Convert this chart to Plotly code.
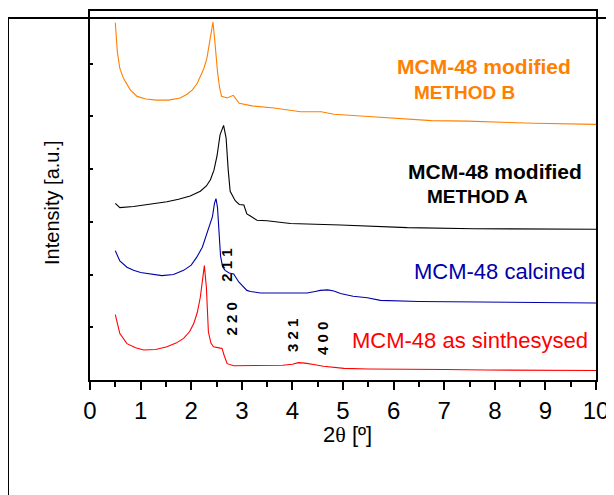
import plotly.graph_objects as go

# ---- data ----
red_x = [0.5, 0.59, 0.73, 0.9, 1.06, 1.3, 1.52, 1.7, 1.85, 1.97, 2.05, 2.12, 2.18, 2.22, 2.26, 2.30, 2.34,
         2.39, 2.44, 2.55, 2.61, 2.65, 2.71, 2.84, 3.2, 3.48, 3.81, 4.0, 4.12, 4.25, 4.35, 4.45, 4.61,
         5.02, 5.5, 6.49, 7.0, 7.83, 9.0, 10]
red_y = [1.24, 0.88, 0.69, 0.61, 0.57, 0.58, 0.63, 0.70, 0.79, 0.92, 1.07, 1.28, 1.57, 1.85, 2.17, 1.76, 0.91,
         0.70, 0.63, 0.61, 0.60, 0.47, 0.31, 0.27, 0.27, 0.27, 0.28, 0.30, 0.33, 0.32, 0.31, 0.29, 0.26,
         0.22, 0.21, 0.21, 0.20, 0.19, 0.18, 0.18]

blue_x = [0.5, 0.59, 0.73, 0.86, 1.0, 1.19, 1.42, 1.65, 1.85, 2.0, 2.11, 2.22, 2.31, 2.36, 2.42, 2.46,
          2.49, 2.52, 2.55, 2.58, 2.62, 2.67, 2.75, 2.84, 2.94, 3.02, 3.1, 3.17, 3.37, 3.63, 4.0, 4.29,
          4.45, 4.55, 4.7, 4.82, 4.95, 5.2, 5.48, 5.74, 6.5, 7.72, 9.0, 10]
blue_y = [2.45, 2.26, 2.14, 2.08, 2.04, 2.01, 1.98, 2.0, 2.08, 2.18, 2.33, 2.52, 2.77, 2.9, 3.1, 3.35,
          3.44, 3.27, 2.83, 2.35, 2.15, 2.08, 2.03, 2.01, 1.86, 1.78, 1.70, 1.68, 1.65, 1.65, 1.65, 1.65,
          1.68, 1.70, 1.71, 1.69, 1.64, 1.59, 1.56, 1.51, 1.49, 1.48, 1.47, 1.46]

black_x = [0.5, 0.59, 0.86, 1.2, 1.52, 1.75, 1.98, 2.18, 2.3, 2.38, 2.45, 2.51, 2.57, 2.64, 2.69, 2.73,
           2.77, 2.87, 2.95, 3.04, 3.1, 3.17, 3.3, 3.5, 3.96, 4.95, 6.27, 7.59, 10]
black_y = [3.35, 3.27, 3.29, 3.33, 3.38, 3.43, 3.49, 3.58, 3.68, 3.80, 3.98, 4.25, 4.65, 4.83, 4.59, 4.0,
           3.58, 3.40, 3.33, 3.32, 3.15, 3.11, 3.03, 3.02, 2.97, 2.94, 2.89, 2.87, 2.86]

orange_x = [0.5, 0.54, 0.59, 0.65, 0.70, 0.8, 0.93, 1.1, 1.32, 1.55, 1.78, 1.92, 2.02, 2.12, 2.2, 2.25,
            2.31, 2.37, 2.40, 2.43, 2.46, 2.49, 2.52, 2.56, 2.6, 2.71, 2.83, 2.95, 3.2, 3.64, 4.16, 4.57,
            4.82, 5.5, 6.14, 6.75, 7.46, 8.78, 10]
orange_y = [6.78, 6.23, 5.91, 5.75, 5.66, 5.5, 5.38, 5.33, 5.31, 5.31, 5.35, 5.42, 5.5, 5.63, 5.8, 5.91,
            6.1, 6.42, 6.6, 6.79, 6.5, 6.1, 5.85, 5.55, 5.38, 5.35, 5.40, 5.25, 5.2, 5.16, 5.09, 5.09,
            5.04, 5.0, 4.96, 4.92, 4.91, 4.87, 4.85]

x_ticks = [0, 1, 2, 3, 4, 5, 6, 7, 8, 9, 10]

# Miller index labels: text, x (2θ), y (intensity)
hkl_text = ["2 1 1", "2 2 0", "3 2 1", "4 0 0"]
hkl_x = [2.69, 2.80, 3.99, 4.60]
hkl_y = [2.17, 1.16, 0.85, 0.79]

FONT = "Arial, 'Liberation Sans', sans-serif"
SERIF = "Times New Roman, Liberation Serif, serif"
ORANGE = "#FF8000"
BLUE = "#0000AA"
RED = "#FF0000"

fig = go.Figure()
for xs, ys, c in [(red_x, red_y, RED), (blue_x, blue_y, BLUE),
                  (black_x, black_y, "#000000"), (orange_x, orange_y, ORANGE)]:
    fig.add_trace(go.Scatter(x=xs, y=ys, mode="lines", line=dict(color=c, width=1.1),
                             showlegend=False, hoverinfo="skip"))

# page has an 8px body margin: work in window pixels and offset
OFF = 8
FW, FH = 614 - OFF, 495 - OFF
L, R, T, B = 90, 596, 9, 380   # window pixels of the plot box
W = R - L
H = B - T


def px(x):
    return (x - L) / W


def py(y):
    return (B - y) / H


ann = []


def txt(text, x, y, size, color, bold=False, xanchor="center", angle=0):
    ann.append(dict(text=("<b>%s</b>" % text) if bold else text, x=px(x), y=py(y),
                    xref="paper", yref="paper", showarrow=False, xanchor=xanchor, yanchor="middle",
                    textangle=angle, font=dict(family=FONT, size=size, color=color)))


txt("MCM-48 modified", 484, 65, 21, ORANGE, True)
txt("METHOD B", 464, 91, 19, ORANGE, True)
txt("MCM-48 modified", 495, 170, 21, "#000000", True)
txt("METHOD A", 477, 196, 19, "#000000", True)
txt("MCM-48 calcined", 587, 271, 22, BLUE, False, xanchor="right")
txt("MCM-48 as sinthesysed", 590, 340, 22, RED, False, xanchor="right")
txt("Intensity [a.u.]", 52, 202, 20, "#000000", False, angle=-90)
txt("2<span style=\"font-family:%s\">θ</span> [º]" % SERIF, 347, 435, 22, "#000000", False)

for t, xv, yv in zip(hkl_text, hkl_x, hkl_y):
    ann.append(dict(text="<b>%s</b>" % t, x=xv, y=yv, xref="x", yref="y", showarrow=False,
                    textangle=-90, xanchor="center", yanchor="middle",
                    font=dict(family=FONT, size=15, color="#000000")))

shapes = [
    dict(type="line", xref="paper", yref="paper", x0=px(8), x1=px(625), y0=py(16), y1=py(16),
         line=dict(color="black", width=2)),
    dict(type="line", xref="paper", yref="paper", x0=px(8), x1=px(8), y0=py(16), y1=py(505),
         line=dict(color="black", width=2)),
]

fig.update_layout(
    width=FW, height=FH,
    margin=dict(l=L - OFF, r=614 - R, t=T - OFF, b=495 - B, pad=0),
    paper_bgcolor="white", plot_bgcolor="white",
    font=dict(family=FONT, color="black"),
    annotations=ann, shapes=shapes,
    xaxis=dict(range=[0, 10], tickvals=x_ticks, ticks="outside", ticklen=8, tickwidth=1.5,
               tickcolor="black", showline=True, linecolor="black", linewidth=1.5, mirror=True,
               showgrid=False, zeroline=False, tickfont=dict(size=24, family=FONT, color="black"),
               minor=dict(dtick=0.5, ticks="outside", ticklen=5, tickwidth=1.5, tickcolor="black",
                          showgrid=False)),
    yaxis=dict(range=[0, 7], dtick=1, ticks="inside", ticklen=3, tickwidth=1.5, tickcolor="black",
               showticklabels=False, showline=True, linecolor="black", linewidth=1.5, mirror=True,
               showgrid=False, zeroline=False),
)

fig.write_html("out.html")
